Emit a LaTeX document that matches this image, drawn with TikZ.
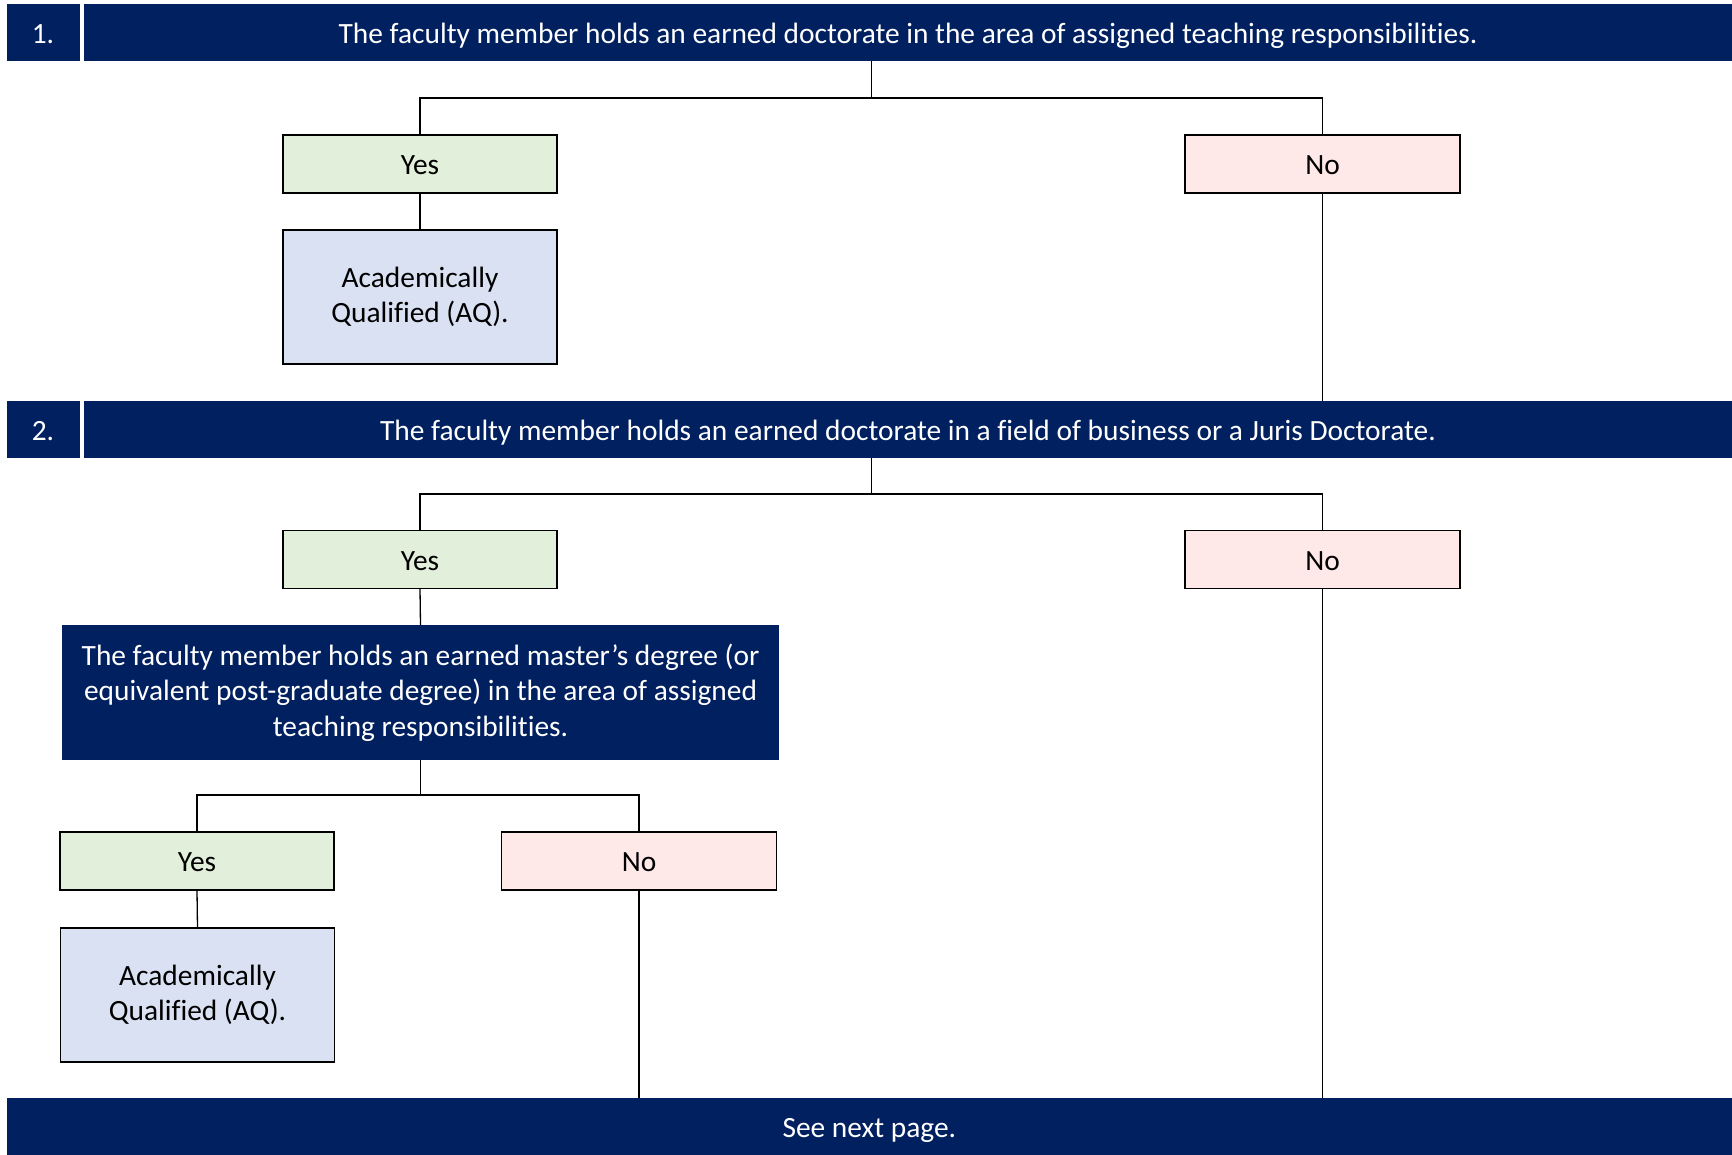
\documentclass[tikz,border=0pt]{standalone}
\usepackage{fontspec}
\setmainfont{Carlito}[Ligatures=NoCommon]
\usetikzlibrary{calc}
\definecolor{navy}{HTML}{002060}
\definecolor{yesgreen}{HTML}{E2EFDA}
\definecolor{nopink}{HTML}{FFE8E8}
\definecolor{aqblue}{HTML}{D9E1F2}
\begin{document}
\begin{tikzpicture}[x=1pt,y=-1pt,
  font=\fontsize{29.4}{35.5}\selectfont,
  bar/.style={fill=navy, text=white, inner sep=0pt, outer sep=0pt, align=center},
  oneline/.style={text height=21.5pt, text depth=0pt},
  box/.style={draw=black, line width=1.3pt, inner sep=0pt, outer sep=0pt, align=center},
  yesbox/.style={box, oneline, fill=yesgreen, minimum width=274pt, minimum height=58pt},
  nobox/.style={box, oneline, fill=nopink, minimum width=275pt, minimum height=58pt},
  aqbox/.style={box, fill=aqblue, minimum width=274pt, minimum height=134pt},
  link/.style={draw=black, line width=1.3pt}]
\useasboundingbox (0,0) rectangle (1732,1155);
% row 1
\node[bar, oneline, minimum width=73pt, minimum height=57pt] (n1) at (43,32.7) {1.};
\node[bar, oneline, minimum width=1648pt, minimum height=57pt] (q1) at (908,32.7) {The faculty member holds an earned doctorate in the area of assigned teaching responsibilities.};
\node[yesbox] (yes1) at (420,164) {Yes};
\node[nobox] (no1) at (1322.5,164) {No};
\node[aqbox] (aq1) at (420,297) {Academically\\Qualified (AQ).};
% row 2
\node[bar, oneline, minimum width=73pt, minimum height=57pt] (n2) at (43,429.5) {2.};
\node[bar, oneline, minimum width=1648pt, minimum height=57pt] (q2) at (908,429.5) {The faculty member holds an earned doctorate in a field of business or a Juris Doctorate.};
\node[yesbox] (yes2) at (420,559.5) {Yes};
\node[nobox] (no2) at (1322.5,559.5) {No};
\node[bar, minimum width=717pt, minimum height=135pt] (q3) at (420.5,692.5) {The faculty member holds an earned master’s degree (or\\equivalent post-graduate degree) in the area of assigned\\teaching responsibilities.};
\node[yesbox] (yes3) at (197,861) {Yes};
\node[nobox] (no3) at (639,861) {No};
\node[aqbox] (aq2) at (197.5,995) {Academically\\Qualified (AQ).};
\node[bar, oneline, minimum width=1725.4pt, minimum height=57pt] (next) at (869.3,1126.5) {See next page.};
% connectors
\coordinate (m1) at ($(yes1.north)!0.5!(no1.north)$);
\coordinate (j1) at (0,98);
\draw[link] (m1 |- q1.south) -- (m1 |- j1);
\draw[link] (yes1.north) -- (yes1.north |- j1) -- (no1.north |- j1) -- (no1.north);
\draw[link] (yes1.south) -- (aq1.north);
\draw[link] (no1.south) -- (no1.south |- q2.north);
\coordinate (m2) at ($(yes2.north)!0.5!(no2.north)$);
\coordinate (j2) at (0,494);
\draw[link] (m2 |- q2.south) -- (m2 |- j2);
\draw[link] (yes2.north) -- (yes2.north |- j2) -- (no2.north |- j2) -- (no2.north);
\draw[link] (yes2.south) -- (q3.north);
\draw[link] (no2.south) -- (no2.south |- next.north);
\coordinate (j3) at (0,795);
\draw[link] (q3.south) -- (q3.south |- j3);
\draw[link] (yes3.north) -- (yes3.north |- j3) -- (no3.north |- j3) -- (no3.north);
\draw[link] (yes3.south) -- (aq2.north);
\draw[link] (no3.south) -- (no3.south |- next.north);
\end{tikzpicture}
\end{document}
